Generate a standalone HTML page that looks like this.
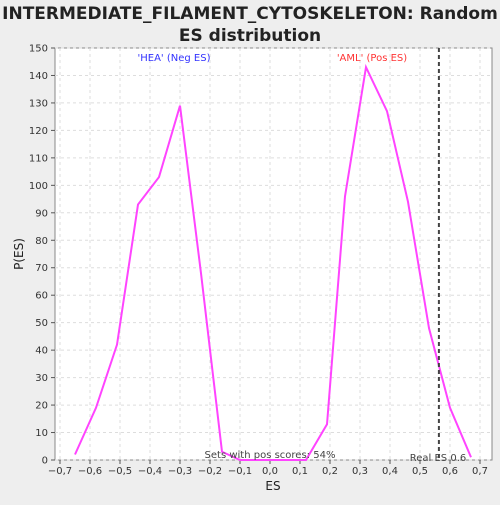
<!DOCTYPE html>
<html><head><meta charset="utf-8"><style>
body{margin:0;background:#eeeeee;font-family:"Liberation Sans","DejaVu Sans",sans-serif;}
svg text{font-family:"DejaVu Sans","Liberation Sans",sans-serif;}
</style></head><body>
<svg id="c" width="500" height="500">
<rect x="0" y="0" width="500" height="500" fill="#eeeeee"/>
<text x="250" y="19" text-anchor="middle" font-size="17" font-weight="bold" fill="#222">INTERMEDIATE_FILAMENT_CYTOSKELETON: Random</text>
<text x="250" y="41" text-anchor="middle" font-size="17" font-weight="bold" fill="#222">ES distribution</text>
<rect x="55" y="48" width="437" height="412" fill="#ffffff" stroke="#888"/>
<g id="grid"></g><g id="axes"></g><g id="series"></g>
<text x="174" y="61" text-anchor="middle" font-size="10" fill="#3333ff">'HEA' (Neg ES)</text>
<text x="372" y="61" text-anchor="middle" font-size="10" fill="#ff3333">'AML' (Pos ES)</text>
<text x="270" y="458" text-anchor="middle" font-size="10" fill="#444">Sets with pos scores: 54%</text>
<text x="438" y="461" text-anchor="middle" font-size="10" fill="#444">Real ES 0.6</text>
<text x="273" y="490" text-anchor="middle" font-size="12" fill="#222">ES</text>
<text x="23" y="254" text-anchor="middle" font-size="12" fill="#222" transform="rotate(-90 23 254)">P(ES)</text>
</svg>
<script>
const esValues=[-0.65,-0.58,-0.51,-0.44,-0.37,-0.30,-0.23,-0.16,-0.10,0.12,0.19,0.25,0.32,0.39,0.46,0.53,0.60,0.67];
const pValues=[2,19,42,93,103,129,68,3,0,0,13,96,143,127,94,48,19,1];
const xTicks=[-0.7,-0.6,-0.5,-0.4,-0.3,-0.2,-0.1,0,0.1,0.2,0.3,0.4,0.5,0.6,0.7];
const yTicks=[0,10,20,30,40,50,60,70,80,90,100,110,120,130,140,150];
const realES=[0.563];
const NS="http://www.w3.org/2000/svg";
const X=v=>270+v*300, Y=v=>460-v*(412/150);
function mk(t,a,p){const e=document.createElementNS(NS,t);for(const k in a)e.setAttribute(k,a[k]);p.appendChild(e);return e;}
const g=document.getElementById('grid'),ax=document.getElementById('axes'),s=document.getElementById('series');
xTicks.forEach(t=>{
 const l=mk('line',{x1:X(t),x2:X(t),y1:48,y2:460,stroke:'#ddd','stroke-dasharray':'3,3'},g);
 
 const k=mk('line',{x1:X(t),x2:X(t),y1:460,y2:464,stroke:'#555'},ax);
 
 const tx=mk('text',{x:X(t),y:474,'text-anchor':'middle','font-size':10,fill:'#333'},ax);
 tx.textContent=(t<0?'\u2212':'')+Math.abs(t).toFixed(1).replace('.',',');
 
});
yTicks.forEach(t=>{
 const l=mk('line',{x1:55,x2:492,y1:Y(t),y2:Y(t),stroke:'#ddd','stroke-dasharray':'3,3'},g);
 
 const k=mk('line',{x1:51,x2:55,y1:Y(t),y2:Y(t),stroke:'#555'},ax);
 
 const tx=mk('text',{x:48,y:Y(t)+3.5,'text-anchor':'end','font-size':10,fill:'#333'},ax);
 tx.textContent=t;
 
});
const pl=mk('polyline',{points:esValues.map((e,i)=>X(e)+','+Y(pValues[i])).join(' '),fill:'none',stroke:'#ff44ff','stroke-width':2},s);

realES.forEach(r=>{
 const d=mk('line',{x1:X(r),x2:X(r),y1:48,y2:460,stroke:'#444','stroke-width':2,'stroke-dasharray':'4,3'},s);
 
});
</script>
</body></html>
